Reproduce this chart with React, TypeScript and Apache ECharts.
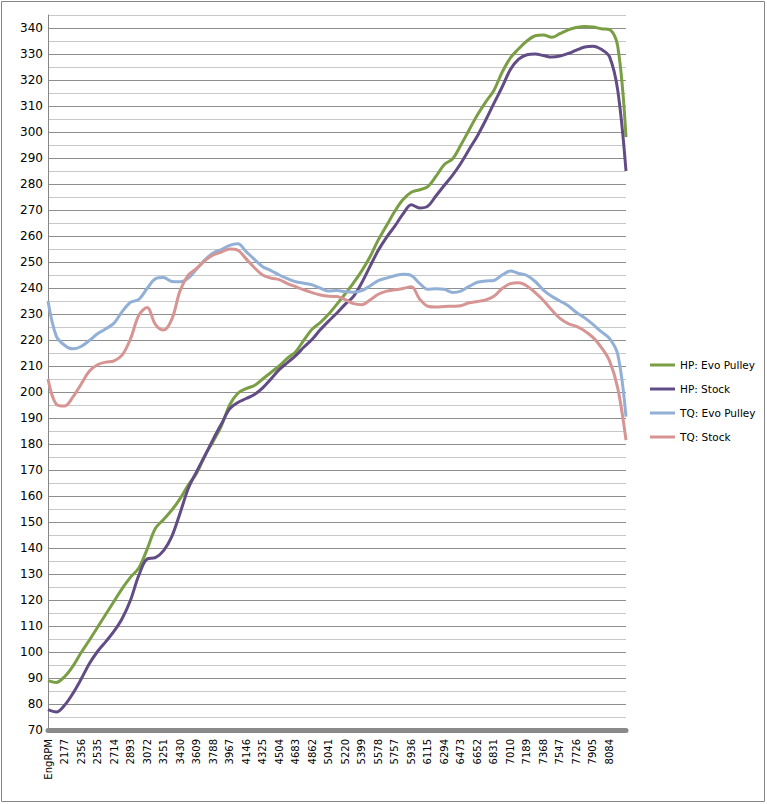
import React, { useEffect, useRef } from "react";
import * as echarts from "echarts";

const rpmCategories = [
  "EngRPM", "2088", "2177", "2266", "2356", "2445", "2535", "2624", "2714", "2803",
  "2893", "2982", "3072", "3161", "3251", "3340", "3430", "3519", "3609", "3698",
  "3788", "3877", "3967", "4056", "4146", "4235", "4325", "4414", "4504", "4593",
  "4683", "4772", "4862", "4951", "5041", "5130", "5220", "5309", "5399", "5488",
  "5578", "5667", "5757", "5846", "5936", "6025", "6115", "6204", "6294", "6383",
  "6473", "6562", "6652", "6741", "6831", "6920", "7010", "7099", "7189", "7278",
  "7368", "7457", "7547", "7636", "7726", "7815", "7905", "7994", "8084", "8173",
  "8263",
];

const seriesNames = ["HP: Evo Pulley", "HP: Stock", "TQ: Evo Pulley", "TQ: Stock"];

const hpEvo = [
  89, 88.3, 90.5, 94.5, 99.7, 104.5, 109.5, 114.5, 119.5, 124.5,
  128.8, 132.3, 139.5, 147.5, 151, 154.6, 159, 164.3, 168.7, 175.5,
  181, 187, 195, 199.5, 201.3, 202.5, 205, 207.5, 210, 213,
  215.5, 220, 224.2, 226.8, 230, 233.8, 237.8, 242, 246.6, 252,
  258.5, 264, 269.5, 274, 276.8, 277.8, 279, 283, 287.5, 289.7,
  295, 300.8, 306.5, 311.5, 316, 323, 328.5, 332, 335, 337,
  337.3, 336.4, 337.8, 339.3, 340.2, 340.6, 340.4, 339.7, 339.4, 333,
  298,
];

const hpStock = [
  77.8, 76.9, 79.5, 84, 89.5, 95.5, 100.2, 104, 108, 113,
  120, 129.5, 135.8, 136.3, 139, 144.5, 153.5, 163, 169.4, 175.5,
  181.8, 187.7, 193.5, 196, 197.5, 199, 201.6, 205, 208.6, 211.3,
  214, 217.3, 220.3, 224, 227.3, 230.4, 233.8, 236.8, 242, 248.3,
  254.5, 259.5, 263.8, 268.5, 272, 270.8, 271.5, 275.5, 279.5, 283.4,
  288, 293.3, 298.5, 304.5, 311, 317.3, 324, 328, 329.7, 330,
  329.4, 328.8, 329.2, 330.2, 331.5, 332.7, 333, 331.8, 329, 316,
  285,
];

const tqEvo = [
  235, 221.5, 218, 216.6, 217.5, 219.8, 222.4, 224.3, 226.5, 231,
  234.5, 235.6, 239.8, 243.5, 244, 242.5, 242.4, 243.8, 247.3, 250.8,
  253.5, 254.8, 256.4, 257, 254, 251, 248.2, 246.7, 245, 243.6,
  242.4, 241.8, 241.2, 239.9, 238.8, 239, 238.6, 238.4, 239, 240.8,
  242.8, 243.8, 244.7, 245.3, 244.8, 241.8, 239.5, 239.7, 239.5, 238.3,
  238.8, 240.6, 242.2, 242.7, 242.9, 245, 246.5, 245.6, 244.8, 242.5,
  239.2, 236.8, 235, 233.2, 230.6, 228.5, 226, 223.2, 220.6, 214.5,
  190.5,
];

const tqStock = [
  205, 195.3, 194.6, 198, 203, 208, 210.5, 211.5, 212, 214.3,
  220.5, 229.5, 232.5, 226, 223.8, 228, 239, 245, 247.5, 250.5,
  252.7, 253.8, 255, 254.5, 251.2, 247.8, 245, 243.8, 243.2, 241.7,
  240.5, 239.3, 238.2, 237.3, 236.8, 236.7, 235.5, 234, 233.6, 235.4,
  237.6, 238.8, 239.3, 239.8, 240.5, 235.8, 233, 232.7, 232.9, 233,
  233.2, 234.3, 234.8, 235.4, 236.8, 239.8, 241.7, 242, 240.8, 238.2,
  235.2, 231.5, 228.3, 226.3, 225.2, 223.5, 221, 217.2, 212, 201.5,
  181.5,
];

const seriesData = [hpEvo, hpStock, tqEvo, tqStock];
const seriesColors = ["#7a9e44", "#614c85", "#92afd6", "#d69593"];

export default function App() {
  const ref = useRef<HTMLDivElement>(null);

  useEffect(() => {
    if (!ref.current) return;
    const chart = echarts.init(ref.current, null, { renderer: "svg" });
    const lastLabelIndex = rpmCategories.indexOf("8084");
    chart.setOption({
      animation: false,
      backgroundColor: "#ffffff",
      textStyle: { fontFamily: "DejaVu Sans" },
      grid: {
        left: 48,
        right: 141,
        top: 15,
        bottom: 74,
        containLabel: false,
        outerBoundsMode: "none",
      },
      legend: {
        orient: "vertical",
        left: 645,
        top: 353,
        icon: "rect",
        itemWidth: 25,
        itemHeight: 3,
        itemGap: 10,
        textStyle: {
          fontFamily: "DejaVu Sans",
          fontSize: 10.5,
          color: "#000000",
          lineHeight: 14,
        },
        data: seriesNames,
      },
      xAxis: {
        type: "category",
        data: rpmCategories,
        boundaryGap: false,
        axisLine: { show: true, lineStyle: { color: "#8a8a8a", width: 5 } },
        axisTick: { show: false },
        splitLine: { show: false },
        axisLabel: {
          rotate: 90,
          margin: 9,
          fontSize: 10,
          color: "#000000",
          fontFamily: "DejaVu Sans",
          interval: (index: number) => index % 2 === 0 && index <= lastLabelIndex,
        },
      },
      yAxis: {
        type: "value",
        min: 70,
        max: 345,
        interval: 5,
        axisLine: { show: true, lineStyle: { color: "#868686", width: 1 } },
        axisTick: { show: false },
        splitLine: {
          show: true,
          lineStyle: { color: ["#8e8e8e", "#c8c8c8"], width: 1 },
        },
        axisLabel: {
          margin: 5,
          fontSize: 12,
          color: "#000000",
          fontFamily: "DejaVu Sans",
          formatter: (v: number) => (v % 10 === 0 ? String(v) : ""),
        },
      },
      graphic: [
        {
          type: "rect",
          shape: { x: 1.5, y: 1.5, width: 763, height: 800 },
          style: { fill: "none", stroke: "#868686", lineWidth: 1 },
          silent: true,
        },
      ],
      series: seriesNames.map((name, i) => ({
        name,
        type: "line",
        data: seriesData[i],
        showSymbol: false,
        symbol: "none",
        smooth: 0.35,
        lineStyle: { width: 3, color: seriesColors[i] },
        itemStyle: { color: seriesColors[i] },
      })),
    });
    return () => chart.dispose();
  }, []);

  return (
    <div
      ref={ref}
      style={{ position: "absolute", left: 0, top: 0, width: 767, height: 804, background: "#fff" }}
    />
  );
}
